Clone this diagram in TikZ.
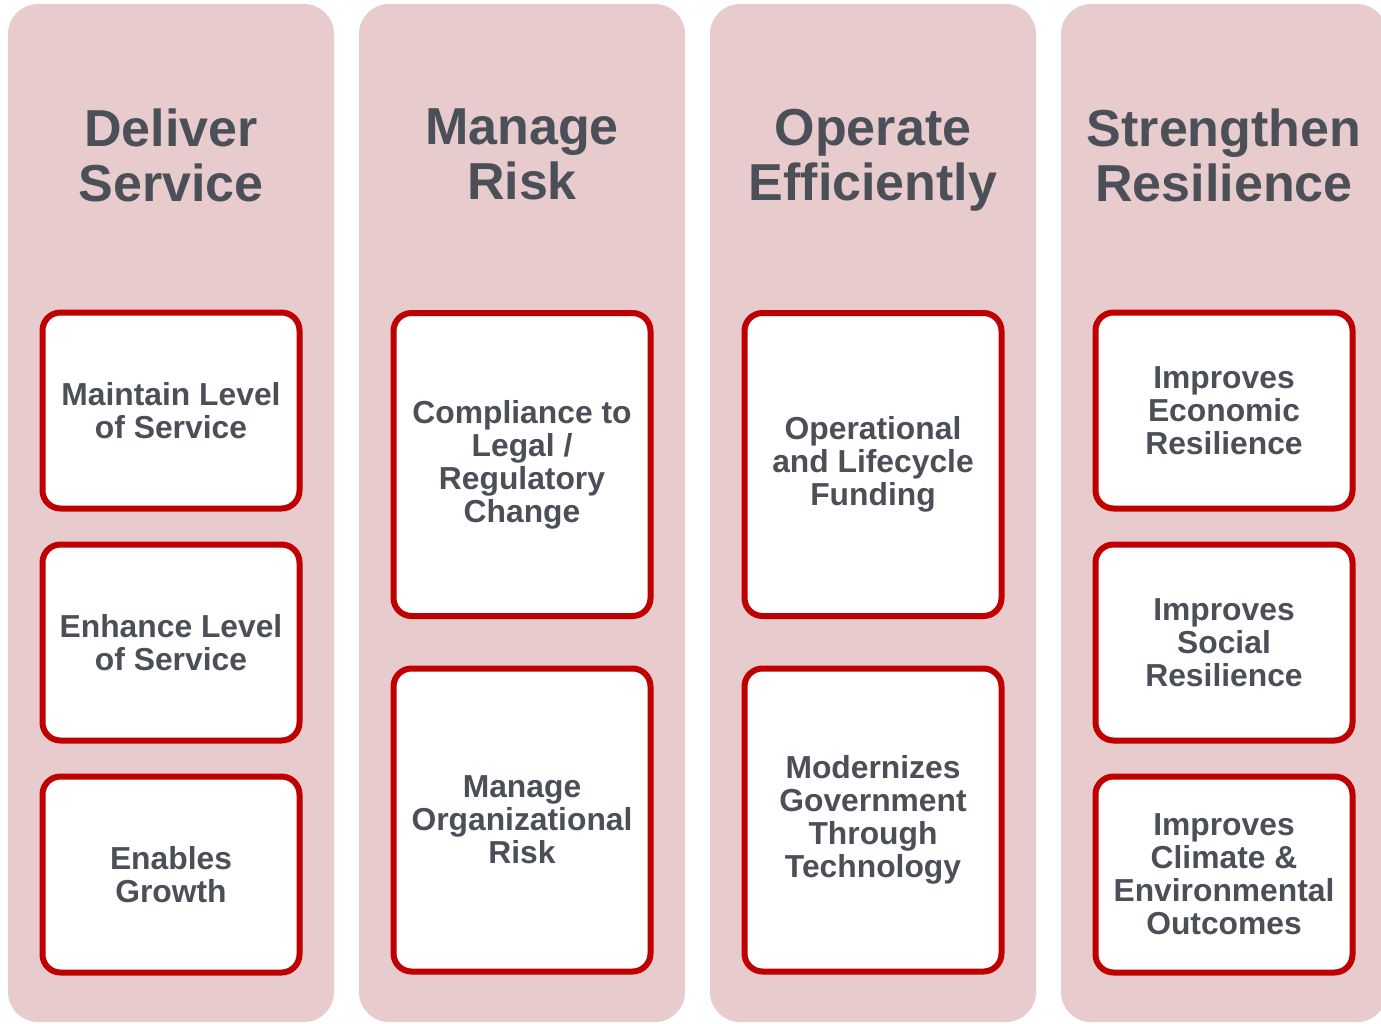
\documentclass[tikz,border=0pt]{standalone}
\usepackage{fontspec}
\setmainfont{Liberation Sans}
\definecolor{colbg}{HTML}{E8CBCC}
\definecolor{boxred}{HTML}{C00000}
\definecolor{txt}{HTML}{4B4F57}
\tikzset{
  column/.style={fill=colbg, draw=none, rounded corners=30pt, minimum width=326pt, minimum height=1018pt, inner sep=0pt},
  title/.style={text=txt, font=\bfseries\fontsize{52}{55}\selectfont, align=center, inner sep=0pt, anchor=north},
  item/.style={draw=boxred, line width=6pt, fill=white, rounded corners=18pt, text=txt,
    font=\bfseries\fontsize{31.8}{33}\selectfont, align=center, minimum width=257pt, inner sep=0pt},
  short/.style={item, minimum height=196pt},
  tall/.style={item, minimum height=303pt}
}
\begin{document}
\begin{tikzpicture}[x=1pt,y=-1pt]
\useasboundingbox (0,0) rectangle (1381,1023);
\clip (0,0) rectangle (1381,1023);
% columns
\node[column] (c1) at (171,513) {};
\node[column] (c2) at (522,513) {};
\node[column] (c3) at (873,513) {};
\node[column] (c4) at (1224,513) {};
% titles
\node[title] (t1) at (171,109) {Deliver\\Service};
\node[title] (t2) at (522,109) {Manage\\Risk};
\node[title] (t3) at (873,109) {Operate\\Efficiently};
\node[title] (t4) at (1224,109) {Strengthen\\Resilience};
% column 1
\node[short] (b11) at (171,410.5) {Maintain Level\\of Service};
\node[short] (b12) at (171,642.5) {Enhance Level\\of Service};
\node[short] (b13) at (171,874.5) {Enables\\Growth};
% column 2
\node[tall] (b21) at (522,464.5) {Compliance to\\Legal /\\Regulatory\\Change};
\node[tall] (b22) at (522,820) {Manage\\Organizational\\Risk};
% column 3
\node[tall] (b31) at (873,464.5) {Operational\\and Lifecycle\\Funding};
\node[tall] (b32) at (873,820) {Modernizes\\Government\\Through\\Technology};
% column 4
\node[short] (b41) at (1224,410.5) {Improves\\Economic\\Resilience};
\node[short] (b42) at (1224,642.5) {Improves\\Social\\Resilience};
\node[short] (b43) at (1224,874.5) {Improves\\Climate \&\\Environmental\\Outcomes};
\end{tikzpicture}
\end{document}
